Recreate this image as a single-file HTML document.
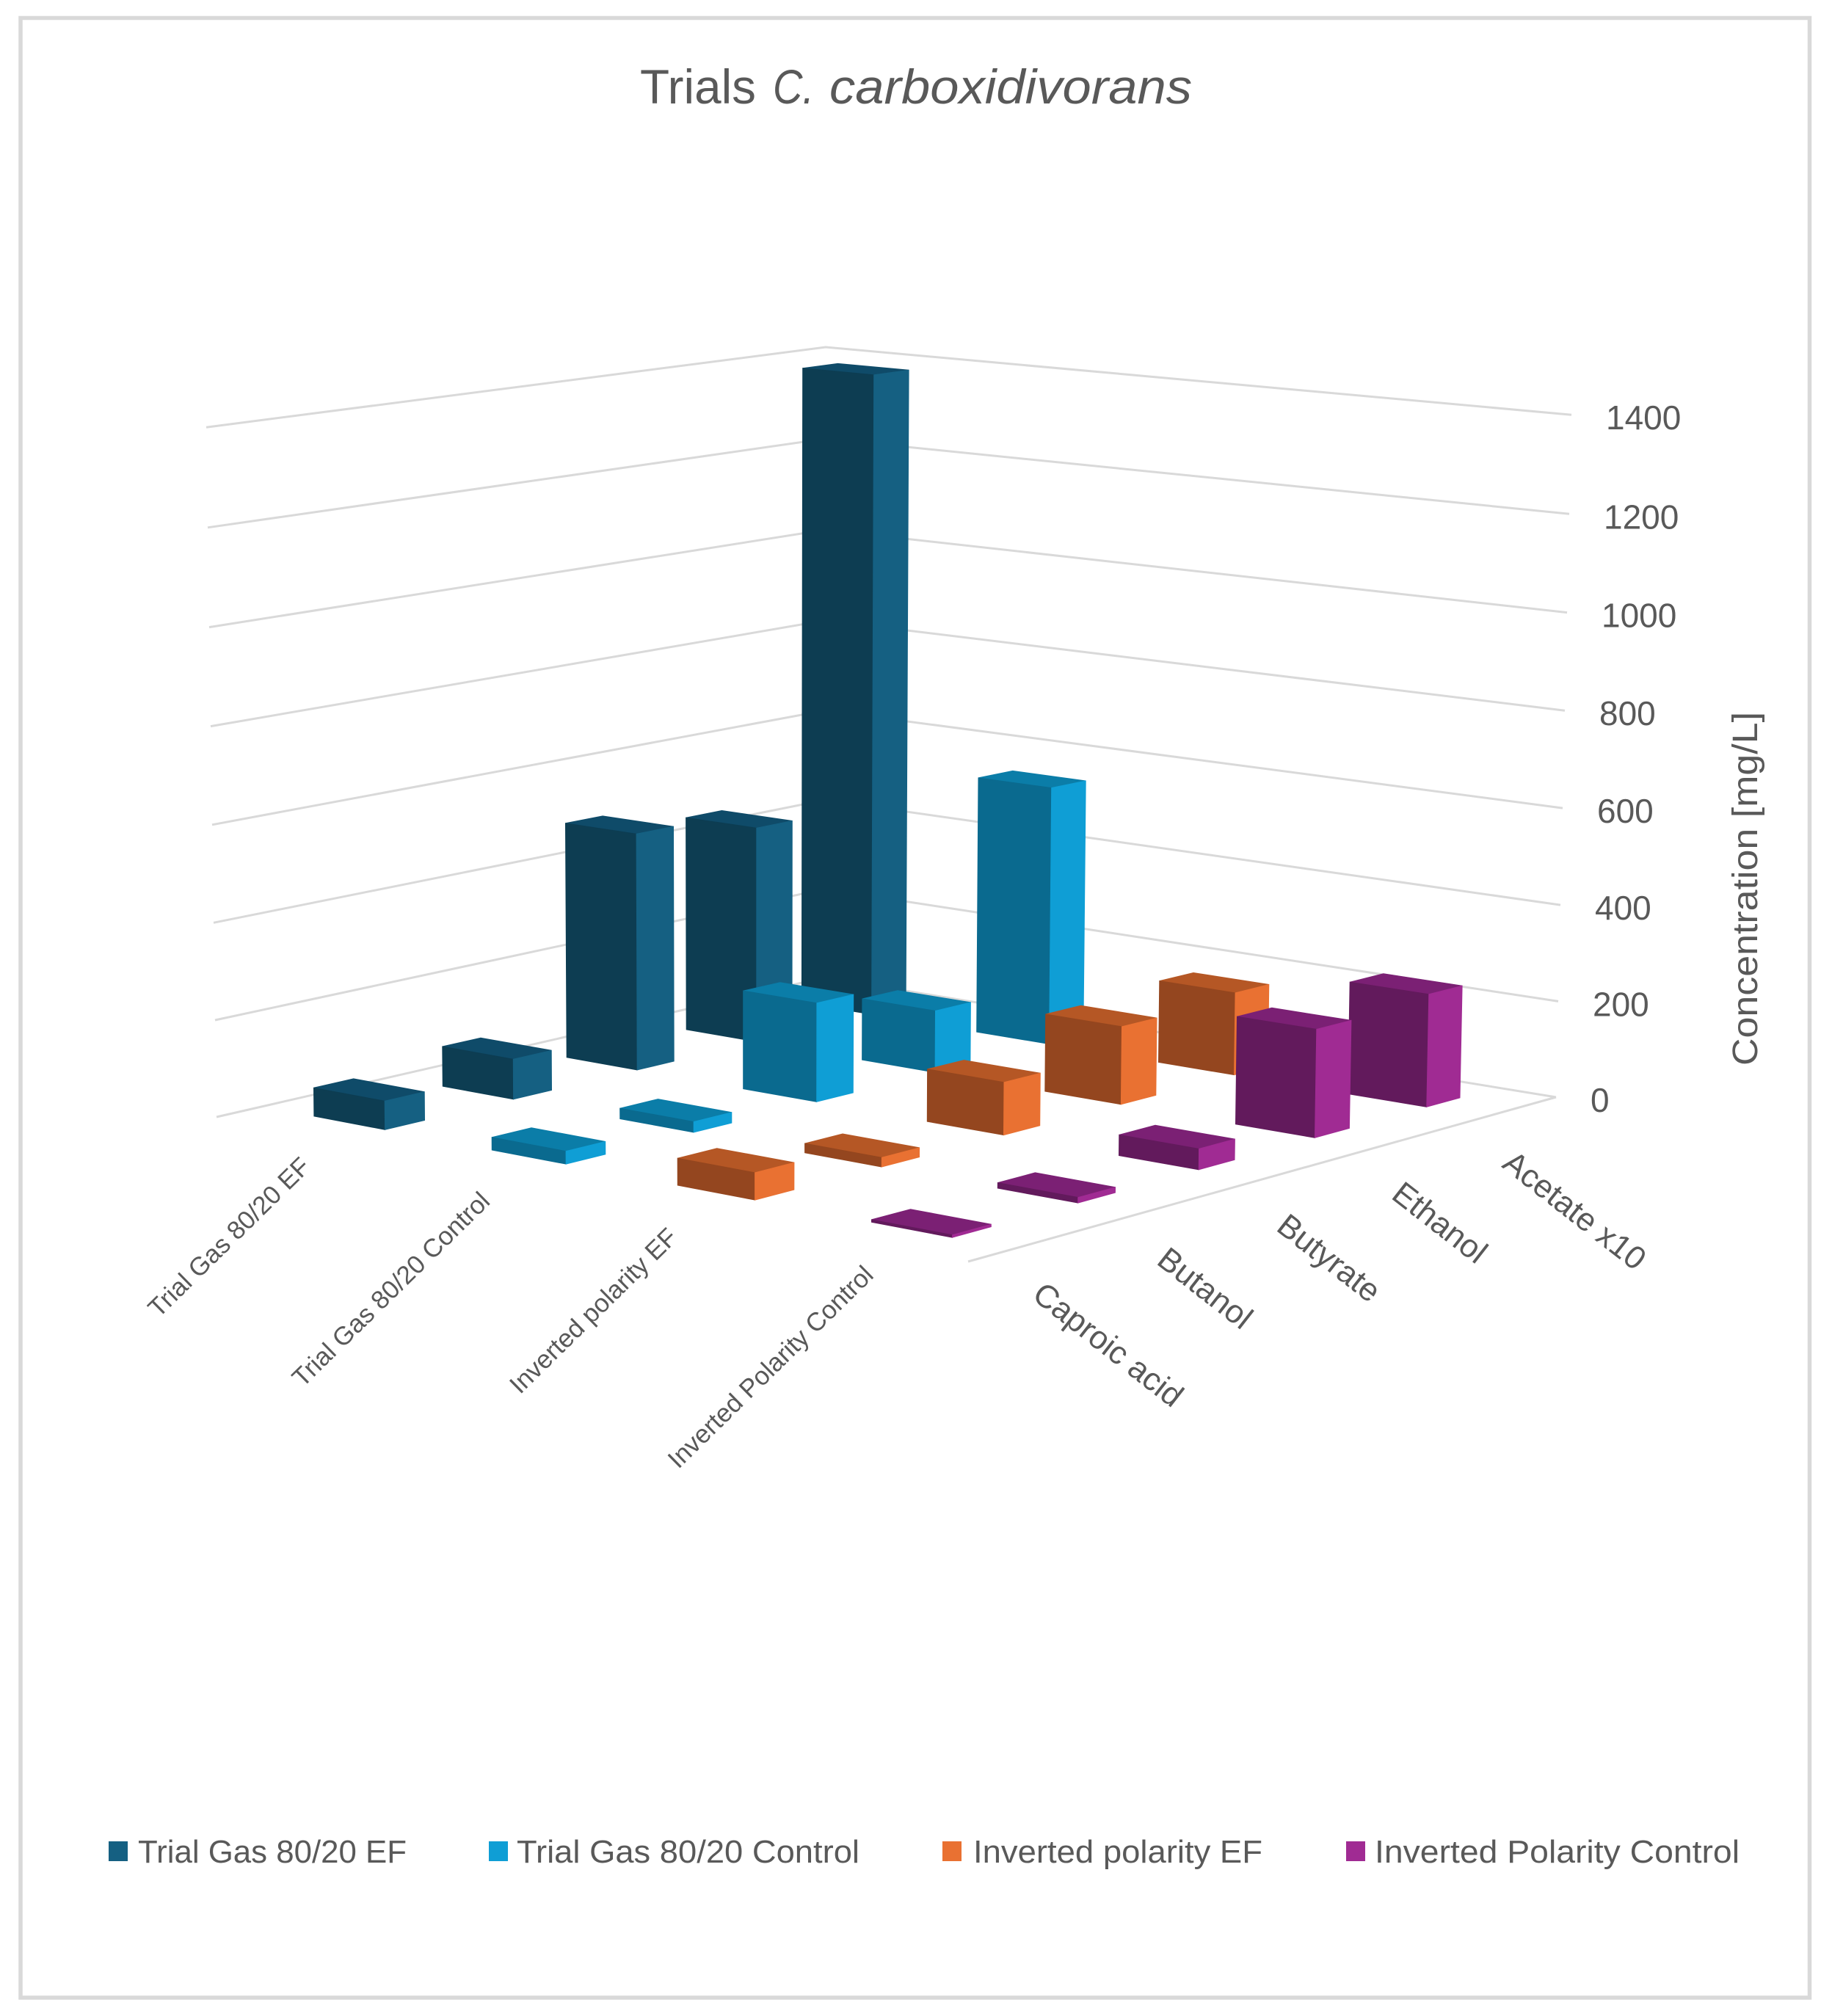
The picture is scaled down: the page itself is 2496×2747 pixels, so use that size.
<!DOCTYPE html>
<html lang="en">
<head>
<meta charset="utf-8">
<title>Trials C. carboxidivorans</title>
<style>
html,body{margin:0;padding:0;background:#fff;}
svg{display:block;font-family:"Liberation Sans",sans-serif;}
text{fill:#595959;}
</style>
</head>
<body>
<svg id="chart" xmlns="http://www.w3.org/2000/svg" width="2496" height="2747" viewBox="0 0 2496 2747">
  <rect x="28" y="24.5" width="2437.5" height="2697.5" fill="#fff" stroke="#D9D9D9" stroke-width="5.5"/>
  <text y="141" font-size="66"><tspan x="872" textLength="158" lengthAdjust="spacingAndGlyphs">Trials</tspan><tspan x="1053" font-style="italic" textLength="56" lengthAdjust="spacingAndGlyphs">C.</tspan><tspan x="1130" font-style="italic" textLength="494" lengthAdjust="spacingAndGlyphs">carboxidivorans</tspan></text>
  <g id="grid"></g>
  <g id="bars"></g>
  <g id="labels"></g>
  <text transform="translate(2394,1452) rotate(-90)" font-size="48" textLength="482" lengthAdjust="spacingAndGlyphs">Concentration [mg/L]</text>
  <g>
    <g>
      <rect x="148" y="2509" width="26" height="27" fill="#156082"/>
      <text x="188" y="2538" font-size="44" textLength="366" lengthAdjust="spacingAndGlyphs">Trial Gas 80/20 EF</text>
    </g>
    <g>
      <rect x="666" y="2509" width="26" height="27" fill="#0F9ED5"/>
      <text x="704" y="2538" font-size="44" textLength="467" lengthAdjust="spacingAndGlyphs">Trial Gas 80/20 Control</text>
    </g>
    <g>
      <rect x="1284" y="2509" width="26" height="27" fill="#E97132"/>
      <text x="1326" y="2538" font-size="44" textLength="394" lengthAdjust="spacingAndGlyphs">Inverted polarity EF</text>
    </g>
    <g>
      <rect x="1834" y="2509" width="26" height="27" fill="#A02B93"/>
      <text x="1873" y="2538" font-size="44" textLength="497" lengthAdjust="spacingAndGlyphs">Inverted Polarity Control</text>
    </g>
  </g>
</svg>
<script>
// ---- chart data ----
const categories = ["Acetate x10", "Ethanol", "Butyrate", "Butanol", "Caproic acid"];
const seriesNames = ["Trial Gas 80/20 EF", "Trial Gas 80/20 Control", "Inverted polarity EF", "Inverted Polarity Control"];
const trialGasEF = [1386, 461, 500, 84, 59];
const trialGasControl = [551, 131, 206, 22, 26];
const invertedPolarityEF = [174, 162, 108, 19, 54];
const invertedPolarityControl = [234, 221, 42, 11, 5];
const yTicks = [0, 200, 400, 600, 800, 1000, 1200, 1400];
const seriesValues = [trialGasEF, trialGasControl, invertedPolarityEF, invertedPolarityControl];

// ---- scene geometry ----
const yMax = 1400;
const floorBack = [1123, 1332], floorRight = [2120, 1495], floorFront = [1319, 1719], floorLeft = [295, 1522];
const backWallHeight = 859;       // pixel height of yMax at the back corner
const tiltCenterX = 1025, tiltPerUnit = 0.0192;   // slight convergence of verticals
const scaleBow = 0.02;            // slight non-linearity of the projected value axis
const faceColors = [
  {front:"#0D3D52", side:"#156082", top:"#0F4B69"},
  {front:"#0A6A8F", side:"#0F9ED5", top:"#0B7DA8"},
  {front:"#94461F", side:"#E97132", top:"#B55725"},
  {front:"#621A5C", side:"#A02B93", top:"#7B2074"}
];
const SVG_NS = "http://www.w3.org/2000/svg";

function makeFloor(q0, q1, q2, q3) {
  const [x0,y0] = q0, [x1,y1] = q1, [x2,y2] = q2, [x3,y3] = q3;
  const sx = x0-x1+x2-x3, sy = y0-y1+y2-y3;
  const dx1 = x1-x2, dx2 = x3-x2, dy1 = y1-y2, dy2 = y3-y2;
  const den = dx1*dy2-dx2*dy1;
  const g = (sx*dy2-dx2*sy)/den, h = (dx1*sy-sx*dy1)/den;
  const a = x1-x0+g*x1, b = x3-x0+h*x3, d = y1-y0+g*y1, e = y3-y0+h*y3;
  return (u,v) => {
    const w = g*u+h*v+1;
    return {x:(a*u+b*v+x0)/w, y:(d*u+e*v+y0)/w, w:w};
  };
}
const floorMap = makeFloor(floorBack, floorRight, floorFront, floorLeft);

// axis functions: u = series axis (0..1), v = category axis (0..1), value = y axis
function project(u, v, value) {
  const p = floorMap(u, v);
  const t = value / yMax;
  const f = t - scaleBow * t * (1 - t);
  const height = backWallHeight / p.w;
  return [p.x + (p.x - tiltCenterX) * tiltPerUnit * t, p.y - height * f];
}
const seriesCenter = s => (s + 0.5) / seriesNames.length;
const categoryCenter = c => (c + 0.5) / categories.length;
const barHalfU = 0.0505;
const barHalfV = 0.0305;

function pts(list) { return list.map(p => p[0].toFixed(1)+","+p[1].toFixed(1)).join(" "); }

const gridG = document.getElementById("grid");
yTicks.forEach(tick => {
  const line = document.createElementNS(SVG_NS, "polyline");
  
  
  line.setAttribute("points", pts([project(0,1,tick), project(0,0,tick), project(1,0,tick)]));
  line.setAttribute("fill", "none");
  line.setAttribute("stroke", "#D9D9D9");
  line.setAttribute("stroke-width", "3");
  gridG.appendChild(line);
});
const floorEdge = document.createElementNS(SVG_NS, "polyline");


floorEdge.setAttribute("points", pts([project(1,0,0), project(1,1,0)]));
floorEdge.setAttribute("fill", "none");
floorEdge.setAttribute("stroke", "#D9D9D9");
floorEdge.setAttribute("stroke-width", "3");
gridG.appendChild(floorEdge);

const barsG = document.getElementById("bars");
function addFace(parent, points, fill, faceName) {
  const poly = document.createElementNS(SVG_NS, "polygon");
  
  
  poly.setAttribute("points", pts(points));
  poly.setAttribute("fill", fill);
  poly.setAttribute("stroke", fill);
  poly.setAttribute("stroke-width", "0.8");
  parent.appendChild(poly);
}
seriesValues.forEach((vals, s) => {
  vals.forEach((val, c) => {
    const u0 = seriesCenter(s)-barHalfU, u1 = seriesCenter(s)+barHalfU;
    const v0 = categoryCenter(c)-barHalfV, v1 = categoryCenter(c)+barHalfV;
    const g = document.createElementNS(SVG_NS, "g");
    
    
    g.setAttribute("data-series", seriesNames[s]);
    g.setAttribute("data-category", categories[c]);
    addFace(g, [project(u0,v0,val),project(u1,v0,val),project(u1,v1,val),project(u0,v1,val)], faceColors[s].top, 'bar-top-face');
    addFace(g, [project(u0,v1,0),project(u1,v1,0),project(u1,v1,val),project(u0,v1,val)], faceColors[s].front, 'bar-front-face');
    addFace(g, [project(u1,v1,0),project(u1,v0,0),project(u1,v0,val),project(u1,v1,val)], faceColors[s].side, 'bar-side-face');
    barsG.appendChild(g);
  });
});

const labelsG = document.getElementById("labels");
function addLabel(str, x, y, size, rot, anchor, labelName) {
  const t = document.createElementNS(SVG_NS, "text");
  
  
  t.setAttribute("font-size", size);
  t.setAttribute("text-anchor", anchor);
  t.setAttribute("transform", "translate("+x.toFixed(1)+","+y.toFixed(1)+") rotate("+rot+")");
  t.textContent = str;
  labelsG.appendChild(t);
}
yTicks.forEach(tick => {
  const p = project(1, 0, tick);
  addLabel(String(tick), p[0]+47, p[1]+20, 46, 0, "start", 'y-tick-label');
});
seriesNames.forEach((name, s) => {
  const p = project(seriesCenter(s), 1, 0);
  addLabel(name, p[0]+11, p[1]+47, 35, -44.5, "end", 'series-axis-label');
});
categories.forEach((name, c) => {
  const p = project(1, categoryCenter(c), 0);
  addLabel(name, p[0]-2, p[1]+74, 44, 38, "start", 'category-axis-label');
});
</script>
</body>
</html>
